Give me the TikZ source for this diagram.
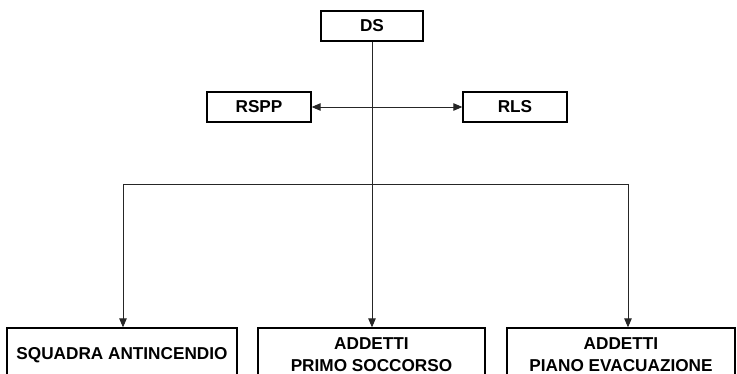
\documentclass[tikz,border=0pt]{standalone}
\usepackage{fontspec}
\setmainfont{Liberation Sans}
\usetikzlibrary{arrows.meta}
\begin{document}
\begin{tikzpicture}[x=1pt,y=-1pt,
  box/.style={draw=black,line width=1.3pt,inner sep=0pt,align=center,
    font=\bfseries\fontsize{17.2}{22}\selectfont},
  topbox/.style={box,minimum width=104pt,minimum height=30pt},
  botbox/.style={box,minimum height=54pt},
  conn/.style={draw=black!85,line width=0.9pt},
  arr/.style={conn,-{Triangle[length=9pt,width=7.5pt]}},
  darr/.style={conn,{Triangle[length=9pt,width=7.5pt]}-{Triangle[length=9pt,width=7.5pt]}}]
\path[use as bounding box] (0,0) rectangle (737,374);
\clip (0,0) rectangle (737,374);
\node[topbox,minimum width=102pt] (ds) at (372,26) {DS};
\node[topbox] (rspp) at (259,107) {RSPP};
\node[topbox] (rls) at (515,107) {RLS};
\node[botbox,minimum width=230pt] (b1) at (122,355) {SQUADRA ANTINCENDIO};
\node[botbox,minimum width=227pt] (b2) at (371.5,355) {ADDETTI\\PRIMO SOCCORSO};
\node[botbox,minimum width=228pt] (b3) at (621,355) {ADDETTI\\PIANO EVACUAZIONE};
\coordinate (jl) at (123,184);
\coordinate (jr) at (628,184);
\draw[darr] (rspp.east) -- (rls.west);
\draw[arr] (ds.south) -- (ds.south |- b2.north);
\draw[conn] (jl) -- (jr);
\draw[arr] (jl) -- (jl |- b1.north);
\draw[arr] (jr) -- (jr |- b3.north);
\end{tikzpicture}
\end{document}
